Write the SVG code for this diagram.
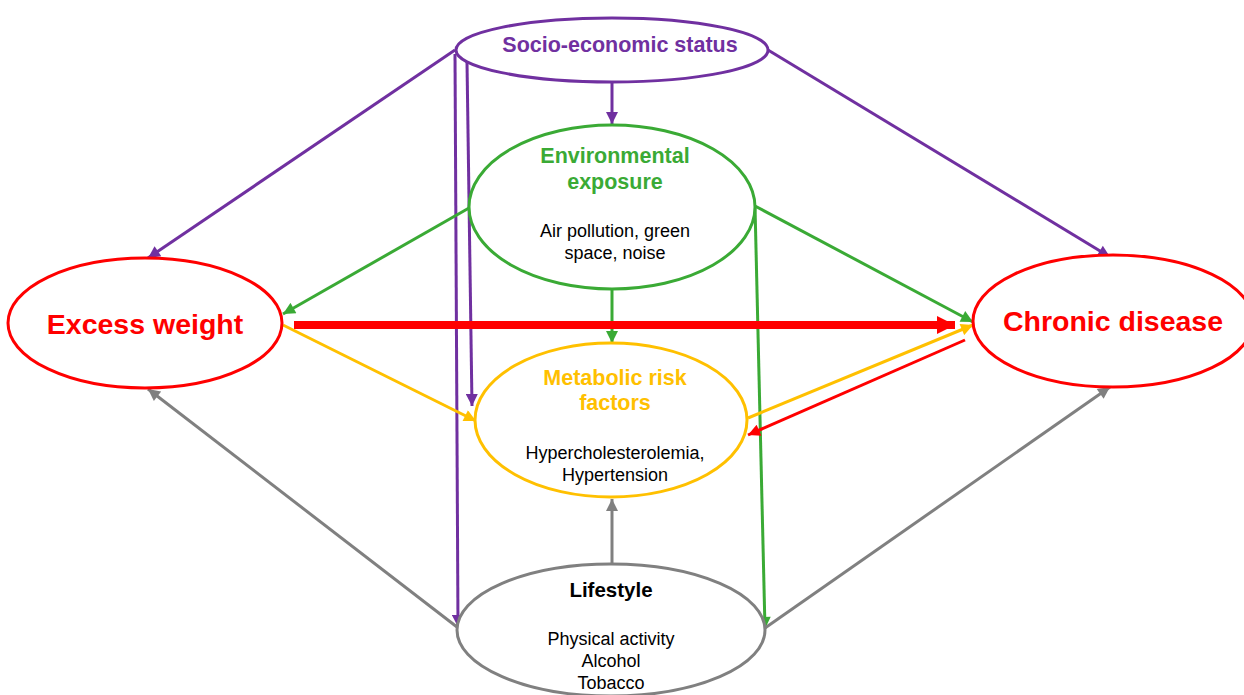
<svg xmlns="http://www.w3.org/2000/svg" width="1244" height="695" viewBox="0 0 1244 695">
<style>
  .node { fill: #fff; stroke-width: 3; }
  .t { font-family: "Liberation Sans", Arial, sans-serif; text-anchor: middle; }
  .b { font-weight: bold; }
  .s { font-size: 18px; fill: #000; }
  .purple { stroke: #7030A0; }
  .green { stroke: #3AAA35; }
  .red { stroke: #FF0000; }
  .yellow { stroke: #FFC000; }
  .gray { stroke: #808080; }
  .c line, .c path { fill: none; stroke-width: 3; }
</style>
<defs>
  <marker id="aP" viewBox="0 0 10 10" refX="10" refY="5" markerWidth="14" markerHeight="12" markerUnits="userSpaceOnUse" orient="auto"><path d="M0,0 L10,5 L0,10 z" fill="#7030A0"/></marker>
  <marker id="aG" viewBox="0 0 10 10" refX="10" refY="5" markerWidth="14" markerHeight="12" markerUnits="userSpaceOnUse" orient="auto"><path d="M0,0 L10,5 L0,10 z" fill="#3AAA35"/></marker>
  <marker id="aR" viewBox="0 0 10 10" refX="10" refY="5" markerWidth="14" markerHeight="12" markerUnits="userSpaceOnUse" orient="auto"><path d="M0,0 L10,5 L0,10 z" fill="#FF0000"/></marker>
  <marker id="aRb" viewBox="0 0 10 10" refX="10" refY="5" markerWidth="18" markerHeight="18" markerUnits="userSpaceOnUse" orient="auto"><path d="M0,0 L10,5 L0,10 z" fill="#FF0000"/></marker>
  <marker id="aY" viewBox="0 0 10 10" refX="10" refY="5" markerWidth="14" markerHeight="12" markerUnits="userSpaceOnUse" orient="auto"><path d="M0,0 L10,5 L0,10 z" fill="#FFC000"/></marker>
  <marker id="aGr" viewBox="0 0 10 10" refX="10" refY="5" markerWidth="14" markerHeight="12" markerUnits="userSpaceOnUse" orient="auto"><path d="M0,0 L10,5 L0,10 z" fill="#808080"/></marker>
</defs>
<rect width="1244" height="695" fill="#fff"/>

<g id="connectors" class="c">
  <!-- purple -->
  <line class="purple" x1="455" y1="50" x2="148" y2="258" marker-end="url(#aP)"/>
  <line class="purple" x1="768" y1="50" x2="1110" y2="257" marker-end="url(#aP)"/>
  <line class="purple" x1="612" y1="82" x2="612" y2="124" marker-end="url(#aP)"/>
  <line class="purple" x1="455" y1="54" x2="458" y2="627" marker-end="url(#aP)"/>
  <line class="purple" x1="467" y1="62" x2="472" y2="406" marker-end="url(#aP)"/>
  <!-- green -->
  <line class="green" x1="469" y1="208" x2="283" y2="314" marker-end="url(#aG)"/>
  <line class="green" x1="755" y1="206" x2="973" y2="322" marker-end="url(#aG)"/>
  <line class="green" x1="612" y1="289" x2="612" y2="343" marker-end="url(#aG)"/>
  <line class="green" x1="755" y1="206" x2="765" y2="629" marker-end="url(#aG)"/>
  <!-- red -->
  <line class="red" x1="294" y1="325" x2="955" y2="325" style="stroke-width:8" marker-end="url(#aRb)"/>
  <line class="red" x1="965" y1="340" x2="748" y2="435" marker-end="url(#aR)"/>
  <!-- yellow -->
  <line class="yellow" x1="283" y1="325" x2="476" y2="421" marker-end="url(#aY)"/>
  <line class="yellow" x1="748" y1="418" x2="973" y2="325" marker-end="url(#aY)"/>
  <!-- gray -->
  <line class="gray" x1="612" y1="564" x2="612" y2="499" marker-end="url(#aGr)"/>
  <line class="gray" x1="457" y1="627" x2="148" y2="389" marker-end="url(#aGr)"/>
  <line class="gray" x1="765" y1="628" x2="1110" y2="387" marker-end="url(#aGr)"/>
</g>

<g id="socio">
  <ellipse class="node purple" cx="612" cy="50" rx="156" ry="32"/>
  <text class="t b" x="620" y="52" font-size="21.5" fill="#7030A0">Socio-economic status</text>
</g>

<g id="environmental">
  <ellipse class="node green" cx="612" cy="207" rx="143" ry="82"/>
  <text class="t b" x="615" y="163" font-size="21.5" fill="#3AAA35">Environmental</text>
  <text class="t b" x="615" y="189" font-size="21.5" fill="#3AAA35">exposure</text>
  <text class="t s" x="615" y="237">Air pollution, green</text>
  <text class="t s" x="615" y="259">space, noise</text>
</g>

<g id="excess-weight">
  <ellipse class="node red" cx="145" cy="323" rx="137" ry="65"/>
  <text class="t b" x="145" y="334" font-size="28.5" fill="#FF0000">Excess weight</text>
</g>

<g id="chronic-disease">
  <ellipse class="node red" cx="1113" cy="321" rx="140" ry="66"/>
  <text class="t b" x="1113" y="331" font-size="28.5" fill="#FF0000">Chronic disease</text>
</g>

<g id="metabolic">
  <ellipse class="node yellow" cx="611" cy="420" rx="136" ry="77"/>
  <text class="t b" x="615" y="385" font-size="21.5" fill="#FFC000">Metabolic risk</text>
  <text class="t b" x="615" y="410" font-size="21.5" fill="#FFC000">factors</text>
  <text class="t s" x="615" y="459">Hypercholesterolemia,</text>
  <text class="t s" x="615" y="481">Hypertension</text>
</g>

<g id="lifestyle">
  <ellipse class="node gray" cx="611" cy="630" rx="154" ry="66"/>
  <text class="t b" x="611" y="597" font-size="20.5" fill="#000">Lifestyle</text>
  <text class="t s" x="611" y="645">Physical activity</text>
  <text class="t s" x="611" y="667">Alcohol</text>
  <text class="t s" x="611" y="689">Tobacco</text>
</g>
</svg>
